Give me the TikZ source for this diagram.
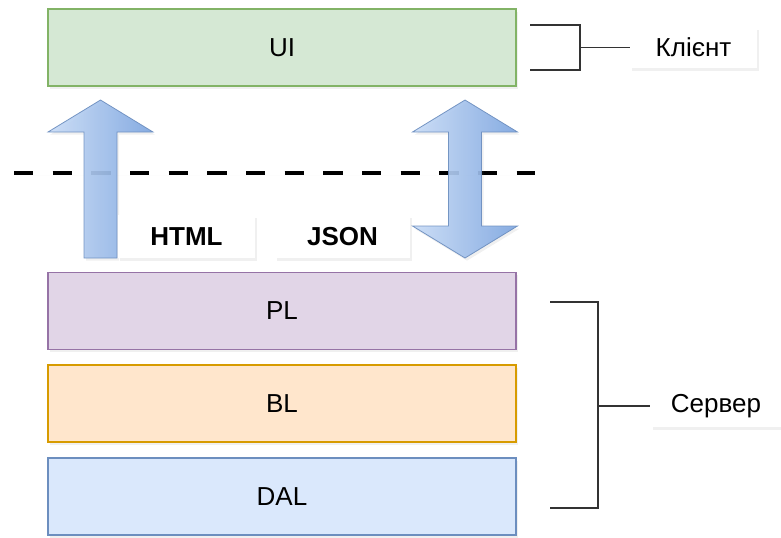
\documentclass[tikz,border=0pt]{standalone}
\usepackage{fontspec}
\setmainfont{Liberation Sans}
\usetikzlibrary{shadows}
\definecolor{uifill}{HTML}{D5E8D4}\definecolor{uidraw}{HTML}{82B366}
\definecolor{plfill}{HTML}{E1D5E7}\definecolor{pldraw}{HTML}{9673A6}
\definecolor{blfill}{HTML}{FFE6CC}\definecolor{bldraw}{HTML}{D79B00}
\definecolor{dalfill}{HTML}{DAE8FC}\definecolor{daldraw}{HTML}{6C8EBF}
\definecolor{arrlight}{HTML}{C9DCF6}\definecolor{arrdark}{HTML}{7EA6E0}
\definecolor{brk}{HTML}{333333}
\tikzset{
  shd/.style={drop shadow={opacity=0.12,shadow xshift=1.5pt,shadow yshift=-2pt}},
  layerbox/.style={shd,draw,line width=0.9pt,minimum width=351pt,minimum height=57.75pt,font=\fontsize{19.5}{23}\selectfont,inner sep=0pt},
  tagbox/.style={shd,fill=white,minimum height=31pt,inner sep=0pt,font=\fontsize{19.5}{23}\selectfont},
  fmtbox/.style={shd,fill=white,minimum height=32pt,inner sep=0pt,font=\bfseries\fontsize{19.5}{23}\selectfont},
  bracket/.style={draw=brk,line width=1pt},
  blockarrow/.style={shd,draw=daldraw,line width=0.6pt,left color=arrlight,right color=arrdark,opacity=0.92}
}
\begin{document}
\begin{tikzpicture}[x=0.75pt,y=-0.75pt]
\useasboundingbox (0,0) rectangle (781,537);
% layers
\node[layerbox,fill=uifill,draw=uidraw] (ui) at (282,47.5) {UI};
\node[layerbox,fill=plfill,draw=pldraw] (pl) at (282,311) {PL};
\node[layerbox,fill=blfill,draw=bldraw] (bl) at (282,403.5) {BL};
\node[layerbox,fill=dalfill,draw=daldraw] (dal) at (282,496.5) {DAL};
% dashed boundary
\coordinate (dl) at (14,173);
\coordinate (dr) at (535,173);
\draw[shd,line width=3.6pt,dash pattern=on 14.5pt off 14.5pt] (dl) -- (dr);
% up arrow (HTML)
\coordinate (ua) at (100.5,100);
\draw[blockarrow] (ua) -- ++(52.5,32) -- ++(-36,0) -- ++(0,126) -- ++(-33,0) -- ++(0,-126) -- ++(-36,0) -- cycle;
% double arrow (JSON)
\coordinate (da) at (465,100);
\draw[blockarrow] (da) -- ++(52.5,32) -- ++(-36,0) -- ++(0,94) -- ++(36,0) -- ++(-52.5,32) -- ++(-52.5,-32) -- ++(36,0) -- ++(0,-94) -- ++(-36,0) -- cycle;
% format labels
\node[fmtbox,minimum width=102.75pt] (html) at (186.5,236.5) {HTML};
\node[fmtbox,minimum width=101.25pt] (json) at (342.5,236.5) {JSON};
% client bracket
\node[tagbox,minimum width=95pt] (klient) at (693.5,47.5) {Клієнт};
\coordinate (kt) at (580,25);
\coordinate (kb) at (580,70);
\draw[bracket] (530,25) -- (kt) -- (kb) -- (530,70);
\draw[bracket] (580,47.5) -- (klient.west);
% server bracket
\node[tagbox,minimum width=98pt,minimum height=32pt] (server) at (716,406) {Сервер};
\coordinate (st) at (598,302);
\coordinate (sb) at (598,508);
\draw[bracket] (550,302) -- (st) -- (sb) -- (550,508);
\draw[bracket] (598,406) -- (server.west);
\end{tikzpicture}
\end{document}
